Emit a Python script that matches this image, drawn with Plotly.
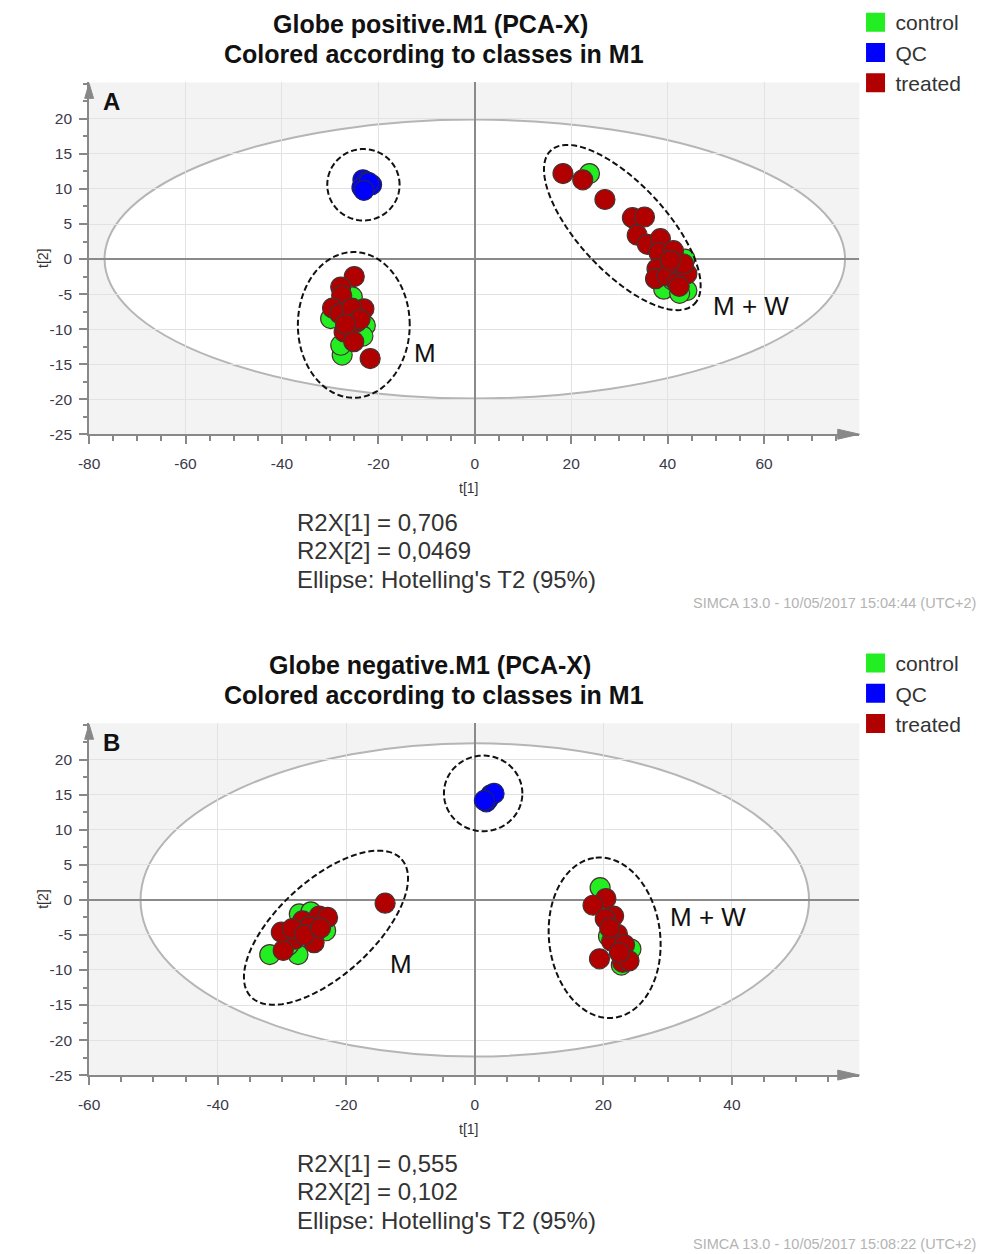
import numpy as np
import plotly.graph_objects as go

W, H = 993, 1254

# ---------------- data: panel A (Globe positive) ----------------
ctrl_a_x = [-27.5, -25.4, -22.7, -29.9, -23.2, -27.8, -26.5, -24.0,
            23.8, 43.6, 44.0, 39.2, 42.5, 43.2, 41.0]
ctrl_a_y = [-13.7, -5.4, -9.5, -8.5, -11.0, -12.3, -7.5, -8.0,
            12.2, 0.0, -4.5, -4.3, -4.9, -2.0, -3.0]
qc_a_x = [-23.2, -22.5, -23.4, -21.4, -22.0, -23.0]
qc_a_y = [11.3, 11.0, 10.2, 10.6, 10.9, 9.8]
trt_a_x = [-25.0, -27.8, -27.6, -29.5, -23.0, -27.1, -25.1, -21.7, -26.0, -24.5, -28.0, -25.5, -23.8, -26.8,
           18.3, 22.4, 27.0, 32.7, 35.2, 33.7, 35.8, 38.5, 38.2, 41.2, 37.8, 37.5, 39.9, 41.9, 44.0, 43.3, 40.6, 42.4]
trt_a_y = [-2.5, -4.0, -5.2, -7.0, -7.1, -10.4, -11.8, -14.2, -8.5, -9.0, -7.8, -7.0, -8.6, -9.3,
           12.2, 11.3, 8.5, 5.9, 6.0, 3.4, 2.1, 2.9, 0.9, 1.2, -1.4, -2.8, -2.4, -3.3, -2.1, -0.7, -0.2, -3.9]

# ---------------- data: panel B (Globe negative) ----------------
ctrl_b_x = [-31.9, -27.5, -23.2, -27.3, -25.5, -29.0, 19.5, 24.3, 22.8, 20.8]
ctrl_b_y = [-7.8, -7.8, -4.4, -2.0, -1.7, -6.5, 1.75, -7.0, -9.3, -5.2]
qc_b_x = [1.8, 2.5, 2.2, 3.0, 1.5]
qc_b_y = [14.0, 15.0, 14.5, 15.2, 14.2]
trt_b_x = [-13.95, -26.8, -24.2, -22.9, -28.0, -29.8, -25.0, -30.1, -25.8, -28.4, -26.5, -24.0,
           20.4, 18.4, 21.6, 20.3, 22.2, 21.3, 23.3, 19.4, 23.0, 24.0, 22.5, 21.0]
trt_b_y = [-0.47, -3.0, -2.3, -2.5, -5.6, -7.2, -6.1, -4.6, -3.8, -4.1, -5.0, -4.0,
           0.2, -0.76, -2.3, -2.7, -4.9, -5.9, -6.4, -8.4, -8.9, -8.7, -7.5, -4.0]

classes = ["control", "QC", "treated"]
titles = ["Globe positive.M1 (PCA-X)", "Globe negative.M1 (PCA-X)"]
subtitle = "Colored according to classes in M1"
stats_a = ["R2X[1] = 0,706", "R2X[2] = 0,0469", "Ellipse: Hotelling's T2 (95%)"]
stats_b = ["R2X[1] = 0,555", "R2X[2] = 0,102", "Ellipse: Hotelling's T2 (95%)"]
stamps = ["SIMCA 13.0 - 10/05/2017 15:04:44 (UTC+2)", "SIMCA 13.0 - 10/05/2017 15:08:22 (UTC+2)"]
xticks_a = [-80, -60, -40, -20, 0, 20, 40, 60]
xticks_b = [-60, -40, -20, 0, 20, 40]
yticks = [-25, -20, -15, -10, -5, 0, 5, 10, 15, 20]

# Hotelling T2 ellipse semi-axes (t1, t2)
hot_a = (76.8, 19.9)
hot_b = (52.0, 22.35)

# ---------------- styling ----------------
COL = {"control": "#22ee22", "QC": "#0000ff", "treated": "#b00000"}
EDGE = "#4a3030"
FONT = "Liberation Sans, Arial, sans-serif"
TXT = "#333333"


def px(x):
    return x / W


def py(y):
    return 1 - y / H


fig = go.Figure()

panels = [
    ("x", "y", ctrl_a_x, ctrl_a_y, qc_a_x, qc_a_y, trt_a_x, trt_a_y, "legend"),
    ("x2", "y2", ctrl_b_x, ctrl_b_y, qc_b_x, qc_b_y, trt_b_x, trt_b_y, "legend2"),
]
for xa, ya, cx, cy, qx, qy, tx, ty, lg in panels:
    for name, xs, ys in [("control", cx, cy), ("QC", qx, qy), ("treated", tx, ty)]:
        fig.add_trace(go.Scatter(
            x=xs, y=ys, mode="markers", xaxis=xa, yaxis=ya, name=name, showlegend=False,
            marker=dict(size=20, color=COL[name], line=dict(color=EDGE if name != "QC" else "#202060", width=1.2)),
        ))
    for name in classes:
        fig.add_trace(go.Scatter(
            x=[None], y=[None], mode="markers", xaxis=xa, yaxis=ya, name=name, legend=lg,
            marker=dict(size=16, symbol="square", color=COL[name], line=dict(color=COL[name], width=3)),
        ))

shapes = []


def ell_path(c, u, v, n=120):
    t = np.linspace(0, 2 * np.pi, n)
    xs = c[0] + u[0] * np.cos(t) + v[0] * np.sin(t)
    ys = c[1] + u[1] * np.cos(t) + v[1] * np.sin(t)
    return "M " + " L ".join(f"{a:.3f},{b:.3f}" for a, b in zip(xs, ys)) + " Z"


DASH = "6px,3px"
for xr, yr, hot, groups in [
    ("x", "y", hot_a, [((-23.1, 10.6), (7.5, 0), (0, 5.1)),
                        ((-25.1, -9.4), (11.6, 0), (0, 10.4)),
                        ((30.6, 4.5), (14.85, -10.98), (6.6, 4.3))]),
    ("x2", "y2", hot_b, [((1.3, 15.2), (6.1, 0), (0, 5.4)),
                          ((-23.15, -3.97), (11.77, 9.77), (4.94, -5.06)),
                          ((20.2, -5.4), (-1.38, 11.42), (8.6, 0.85))]),
]:
    shapes.append(dict(type="circle", xref=xr, yref=yr, x0=-hot[0], x1=hot[0], y0=-hot[1], y1=hot[1],
                       fillcolor="white", line=dict(color="#b5b5b5", width=2), layer="below"))
    for c, u, v in groups:
        shapes.append(dict(type="path", xref=xr, yref=yr, path=ell_path(c, u, v),
                           line=dict(color="#111111", width=2, dash=DASH), layer="above"))

# axis arrows (paper coords)
for top, bottom in [(84, 437), (729, 1082)]:
    shapes.append(dict(type="path", xref="paper", yref="paper",
                       path=f"M {px(79)},{py(top)} L {px(74.5)},{py(top+15)} L {px(83.5)},{py(top+15)} Z",
                       fillcolor="#888888", line=dict(color="#888888", width=1)))
    shapes.append(dict(type="path", xref="paper", yref="paper",
                       path=f"M {px(858)},{py(bottom)} L {px(836)},{py(bottom-5)} L {px(836)},{py(bottom+5)} Z",
                       fillcolor="#888888", line=dict(color="#888888", width=1)))

annotations = []


def ann(text, x, y, size, bold=False, color=TXT, xanchor="center", textangle=0, family=FONT):
    annotations.append(dict(text=f"<b>{text}</b>" if bold else text, x=px(x), y=py(y), xref="paper", yref="paper",
                            showarrow=False, xanchor=xanchor, yanchor="middle", textangle=textangle,
                            font=dict(size=size, color=color, family=family)))


for i, off in enumerate([0, 645]):
    ann(titles[i], 424, 24 + off, 25, bold=True, color="#111111")
    ann(subtitle, 428, 54 + off, 25, bold=True, color="#111111")
    ann("ABCD"[i], 102, 102 + off, 24, bold=True, color="#111111")
    ann("t[1]", 463, 491 + off, 14)
    ann("t[2]", 33, 260 + off, 14, textangle=-90)
    st = stats_a if i == 0 else stats_b
    for j, s in enumerate(st):
        ann(s, 287, 526 + 28.5 * j + off, 24, xanchor="left")
    ann(stamps[i], 978, 607 + off, 14.5, color="#b3b3b3", xanchor="right")

ann("M", 419, 355, 26, color="#111111")
ann("M + W", 748, 308, 26, color="#111111")
ann("M", 394, 970, 26, color="#111111")
ann("M + W", 705, 923, 26, color="#111111")

axis_common = dict(showgrid=True, gridcolor="#e2e2e2", gridwidth=1, zeroline=True, zerolinecolor="#8a8a8a",
                   zerolinewidth=1.5, showline=True, linecolor="#888888", linewidth=2, ticks="outside",
                   tickcolor="#888888", tickwidth=1.5, ticklen=8,
                   tickfont=dict(size=15.5, color="#3a3a48", family=FONT), fixedrange=True)


def labels(vals):
    return [str(v) for v in vals]


fig.update_layout(
    width=W, height=H, margin=dict(l=0, r=0, t=0, b=0),
    paper_bgcolor="white", plot_bgcolor="#f3f3f3",
    shapes=shapes, annotations=annotations,
    xaxis=dict(domain=[px(79), px(858)], range=[-80, 79.8], anchor="y", tickvals=xticks_a,
               ticktext=labels(xticks_a),
               minor=dict(dtick=5, tick0=0, ticklen=5, tickcolor="#888888", ticks="outside", showgrid=False),
               ticklabelstandoff=6, **axis_common),
    yaxis=dict(domain=[py(437), py(83)], range=[-25, 25.2], anchor="x", tickvals=yticks,
               ticktext=labels(yticks),
               minor=dict(dtick=2.5, tick0=0, ticklen=4, tickcolor="#888888", ticks="outside", showgrid=False),
               ticklabelstandoff=4, **axis_common),
    xaxis2=dict(domain=[px(79), px(858)], range=[-60, 59.85], anchor="y2", tickvals=xticks_b,
                ticktext=labels(xticks_b),
                minor=dict(dtick=5, tick0=0, ticklen=5, tickcolor="#888888", ticks="outside", showgrid=False),
                ticklabelstandoff=6, **axis_common),
    yaxis2=dict(domain=[py(1082), py(728)], range=[-25, 25.2], anchor="x2", tickvals=yticks,
                ticktext=labels(yticks),
                minor=dict(dtick=2.5, tick0=0, ticklen=4, tickcolor="#888888", ticks="outside", showgrid=False),
                ticklabelstandoff=4, **axis_common),
    legend=dict(x=px(854), y=py(2), xanchor="left", yanchor="top", bgcolor="rgba(0,0,0,0)",
                font=dict(size=21, color=TXT, family=FONT), tracegroupgap=0, itemclick=False),
    legend2=dict(x=px(854), y=py(647), xanchor="left", yanchor="top", bgcolor="rgba(0,0,0,0)",
                 font=dict(size=21, color=TXT, family=FONT), tracegroupgap=0, itemclick=False),
)

fig.write_html("out.html", config={"displayModeBar": False},
               post_script="document.body.style.margin='0';document.body.style.padding='0';")
